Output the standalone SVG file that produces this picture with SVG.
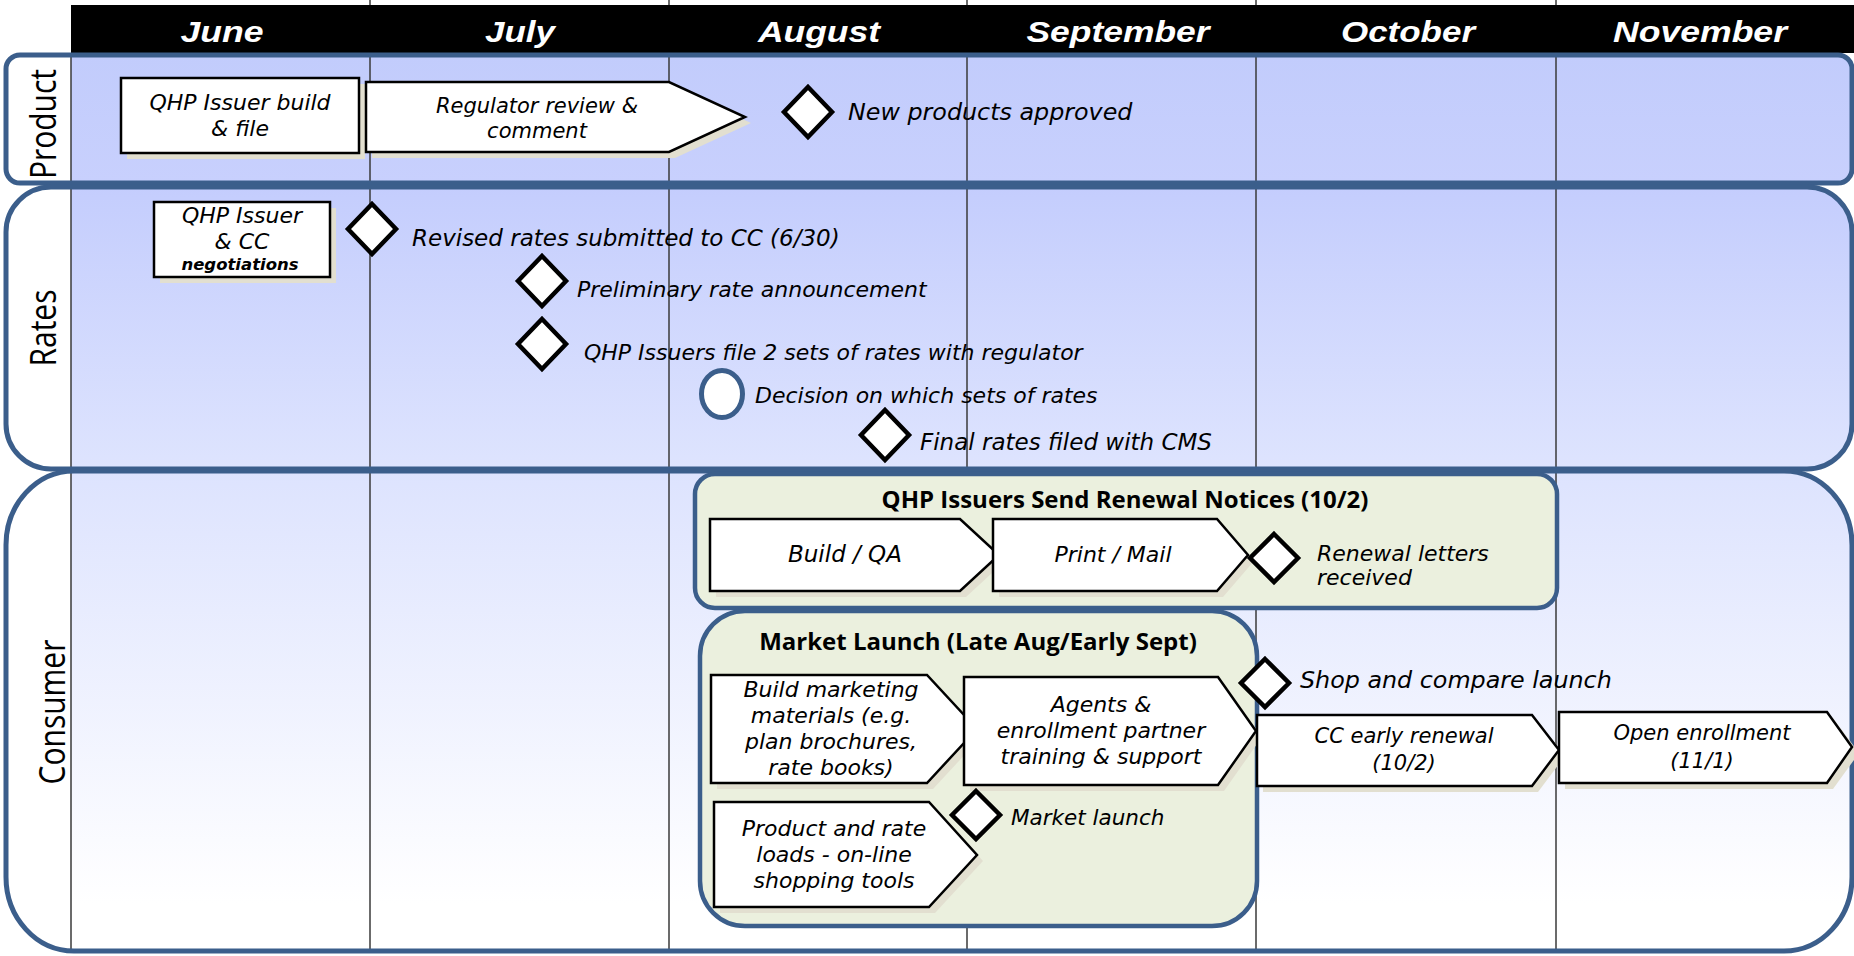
<svg xmlns="http://www.w3.org/2000/svg" width="1854" height="956" viewBox="0 0 1854 956">
<style>
.lane{fill:none;stroke:#3B5E8B;stroke-width:5}
.grid{stroke:#3a3a3a;stroke-width:1.5}
.box{fill:#fff;stroke:#000;stroke-width:2.5;stroke-linejoin:miter}
.shadow{fill:#E2DFD0}
.ms{fill:#fff;stroke:#000;stroke-width:4.5;stroke-linejoin:miter}
.grp{fill:#EBF0DE;stroke:#3B5E8B;stroke-width:4.5}
.t{font-family:"DejaVu Sans","Liberation Sans",sans-serif;font-style:italic;font-size:22px;fill:#000}
.c{text-anchor:middle}
.month{font-family:"Liberation Sans",Arial,sans-serif;font-weight:bold;font-style:italic;font-size:29px;fill:#fff;text-anchor:middle}
.lbl{font-family:"Open Sans","DejaVu Sans",sans-serif;font-size:30px;fill:#000;text-anchor:middle}
.title{font-family:"Open Sans","DejaVu Sans",sans-serif;font-weight:bold;font-size:24px;fill:#000;text-anchor:middle}
</style>
<defs>
<linearGradient id="gProd" x1="0" y1="0" x2="0" y2="1"><stop offset="0" stop-color="#C2CCFC"/><stop offset="1" stop-color="#C8D0FD"/></linearGradient>
<linearGradient id="gRates" x1="0" y1="0" x2="0" y2="1"><stop offset="0" stop-color="#C4CDFD"/><stop offset="1" stop-color="#DEE4FE"/></linearGradient>
<linearGradient id="gCons" x1="0" y1="0" x2="0" y2="1"><stop offset="0" stop-color="#DDE3FE"/><stop offset="0.9" stop-color="#FFFFFF"/></linearGradient>
<clipPath id="cpProd"><rect x="6" y="55" width="1846" height="128" rx="14"/></clipPath>
<clipPath id="cpRates"><rect x="6" y="187" width="1846" height="282" rx="45"/></clipPath>
<clipPath id="cpCons"><rect x="6" y="471" width="1846" height="480" rx="68" ry="74"/></clipPath>
</defs>
<rect width="1854" height="956" fill="#fff"/>

<g id="lanes">
<g clip-path="url(#cpProd)"><rect x="6" y="55" width="1846" height="128" fill="url(#gProd)"/><rect x="0" y="50" width="71" height="140" fill="#fff"/></g>
<g clip-path="url(#cpRates)"><rect x="6" y="187" width="1846" height="282" fill="url(#gRates)"/><rect x="0" y="180" width="71" height="300" fill="#fff"/></g>
<g clip-path="url(#cpCons)"><rect x="6" y="471" width="1846" height="480" fill="url(#gCons)"/><rect x="0" y="465" width="71" height="490" fill="#fff"/></g>
</g>

<g id="grid">
<line class="grid" x1="71" y1="53" x2="71" y2="952" stroke="#000"/>
<line class="grid" x1="370" y1="0" x2="370" y2="952"/>
<line class="grid" x1="669" y1="0" x2="669" y2="952"/>
<line class="grid" x1="967" y1="0" x2="967" y2="952"/>
<line class="grid" x1="1256" y1="0" x2="1256" y2="952"/>
<line class="grid" x1="1556" y1="0" x2="1556" y2="952"/>
</g>

<g id="header">
<rect x="71" y="5" width="1783" height="48" fill="#000"/>
<text class="month" x="222" y="42" textLength="83" lengthAdjust="spacingAndGlyphs">June</text>
<text class="month" x="520" y="42" textLength="70" lengthAdjust="spacingAndGlyphs">July</text>
<text class="month" x="819" y="42" textLength="122" lengthAdjust="spacingAndGlyphs">August</text>
<text class="month" x="1118" y="42" textLength="183" lengthAdjust="spacingAndGlyphs">September</text>
<text class="month" x="1408" y="42" textLength="134" lengthAdjust="spacingAndGlyphs">October</text>
<text class="month" x="1700" y="42" textLength="174" lengthAdjust="spacingAndGlyphs">November</text>
</g>

<g id="lane-borders">
<rect class="lane" x="6" y="55" width="1846" height="128" rx="14"/>
<rect class="lane" x="6" y="187" width="1846" height="282" rx="45"/>
<rect class="lane" x="6" y="471" width="1846" height="480" rx="68" ry="74"/>
<text class="lbl" transform="translate(56,124) scale(1.2,1) rotate(-90)">Product</text>
<text class="lbl" transform="translate(56,328) scale(1.2,1) rotate(-90)">Rates</text>
<text class="lbl" transform="translate(65,712) scale(1.2,1) rotate(-90)">Consumer</text>
</g>

<g id="connectors"></g>

<g id="n-qhp-build">
<rect class="shadow" x="127" y="84" width="238" height="75"/>
<rect class="box" x="121" y="78" width="238" height="75"/>
<text class="t c" x="240" y="110">QHP Issuer build</text>
<text class="t c" x="240" y="136">&amp; file</text>
</g>

<g id="n-regulator">
<polygon class="shadow" points="372,88 675,88 751,123 675,158 372,158"/>
<polygon class="box" points="366,82 669,82 745,117 669,152 366,152"/>
<text class="t c" x="537" y="113" style="font-size:21px">Regulator review &amp;</text>
<text class="t c" x="537" y="138" style="font-size:21px">comment</text>
</g>

<g id="n-products-approved">
<polygon class="ms" points="808,87 832,112 808,137 784,112"/>
<text class="t" x="848" y="120" style="font-size:23.8px">New products approved</text>
</g>

<g id="n-negotiations">
<rect class="shadow" x="160" y="208" width="176" height="75"/>
<rect class="box" x="154" y="202" width="176" height="75"/>
<text class="t c" x="242" y="223">QHP Issuer</text>
<text class="t c" x="242" y="249">&amp; CC</text>
<text class="t c" x="240" y="270" style="font-size:16.5px;font-weight:bold">negotiations</text>
</g>

<g id="n-revised-rates">
<polygon class="ms" points="372,204 396,229 372,254 348,229"/>
<text class="t" x="412" y="246" style="font-size:23px">Revised rates submitted to CC (6/30)</text>
</g>

<g id="n-preliminary">
<polygon class="ms" points="542,256 566,281 542,306 518,281"/>
<text class="t" x="577" y="297">Preliminary rate announcement</text>
</g>

<g id="n-two-sets">
<polygon class="ms" points="542,319 566,344 542,369 518,344"/>
<text class="t" x="584" y="360">QHP Issuers file 2 sets of rates with regulator</text>
</g>

<g id="n-decision">
<ellipse cx="722" cy="394" rx="20.5" ry="23.5" fill="#fff" stroke="#3B5E8B" stroke-width="5"/>
<text class="t" x="755" y="403">Decision on which sets of rates</text>
</g>

<g id="n-final-rates">
<polygon class="ms" points="885,410 909,435 885,460 861,435"/>
<text class="t" x="920" y="450" style="font-size:23px">Final rates filed with CMS</text>
</g>

<g id="n-renewal-notices">
<rect class="grp" x="695" y="474" width="862" height="134" rx="20"/>
<text class="title" x="1125" y="508">QHP Issuers Send Renewal Notices (10/2)</text>
<g id="n-build-qa">
<polygon class="shadow" points="716,525 966,525 1005,561 966,597 716,597"/>
<polygon class="box" points="710,519 960,519 999,555 960,591 710,591"/>
<text class="t c" x="845" y="562" style="font-size:23px">Build / QA</text>
</g>
<g id="n-print-mail">
<polygon class="shadow" points="999,525 1223,525 1254,561 1223,597 999,597"/>
<polygon class="box" points="993,519 1217,519 1248,555 1217,591 993,591"/>
<text class="t c" x="1113" y="562">Print / Mail</text>
</g>
<g id="n-letters-received">
<polygon class="ms" points="1274,534 1298,558 1274,582 1250,558"/>
<text class="t" x="1317" y="561">Renewal letters</text>
<text class="t" x="1317" y="585">received</text>
</g>
</g>

<g id="n-market-launch-group">
<rect class="grp" x="700" y="611" width="557" height="315" rx="45"/>
<text class="title" x="978" y="650">Market Launch (Late Aug/Early Sept)</text>
<g id="n-build-marketing">
<polygon class="shadow" points="717,681 933,681 983,735 933,789 717,789"/>
<polygon class="box" points="711,675 927,675 977,729 927,783 711,783"/>
<text class="t c" x="831" y="697">Build marketing</text>
<text class="t c" x="831" y="723">materials (e.g.</text>
<text class="t c" x="831" y="749">plan brochures,</text>
<text class="t c" x="831" y="775">rate books)</text>
</g>
<g id="n-agents">
<polygon class="shadow" points="970,683 1224,683 1262,737 1224,791 970,791"/>
<polygon class="box" points="964,677 1218,677 1256,731 1218,785 964,785"/>
<text class="t c" x="1101" y="712">Agents &amp;</text>
<text class="t c" x="1101" y="738">enrollment partner</text>
<text class="t c" x="1101" y="764">training &amp; support</text>
</g>
<g id="n-product-loads">
<polygon class="shadow" points="720,808 935,808 983,861 935,913 720,913"/>
<polygon class="box" points="714,802 929,802 977,855 929,907 714,907"/>
<text class="t c" x="834" y="836">Product and rate</text>
<text class="t c" x="834" y="862">loads - on-line</text>
<text class="t c" x="834" y="888">shopping tools</text>
</g>
<g id="n-market-launch">
<polygon class="ms" points="976,791 1000,815 976,839 952,815"/>
<text class="t" x="1011" y="825" style="font-size:21.5px">Market launch</text>
</g>
</g>

<g id="n-shop-compare">
<polygon class="ms" points="1265,659 1289,683 1265,707 1241,683"/>
<text class="t" x="1300" y="688" style="font-size:23.8px">Shop and compare launch</text>
</g>

<g id="n-cc-early-renewal">
<polygon class="shadow" points="1263,721 1538,721 1565,756 1538,792 1263,792"/>
<polygon class="box" points="1257,715 1532,715 1559,750 1532,786 1257,786"/>
<text class="t c" x="1404" y="743" style="font-size:21px">CC early renewal</text>
<text class="t c" x="1404" y="770" style="font-size:21px">(10/2)</text>
</g>

<g id="n-open-enrollment">
<polygon class="shadow" points="1565,718 1833,718 1859,753 1833,789 1565,789"/>
<polygon class="box" points="1559,712 1827,712 1852,747 1827,783 1559,783"/>
<text class="t c" x="1702" y="740" style="font-size:21px">Open enrollment</text>
<text class="t c" x="1702" y="768" style="font-size:21px">(11/1)</text>
</g>
</svg>
